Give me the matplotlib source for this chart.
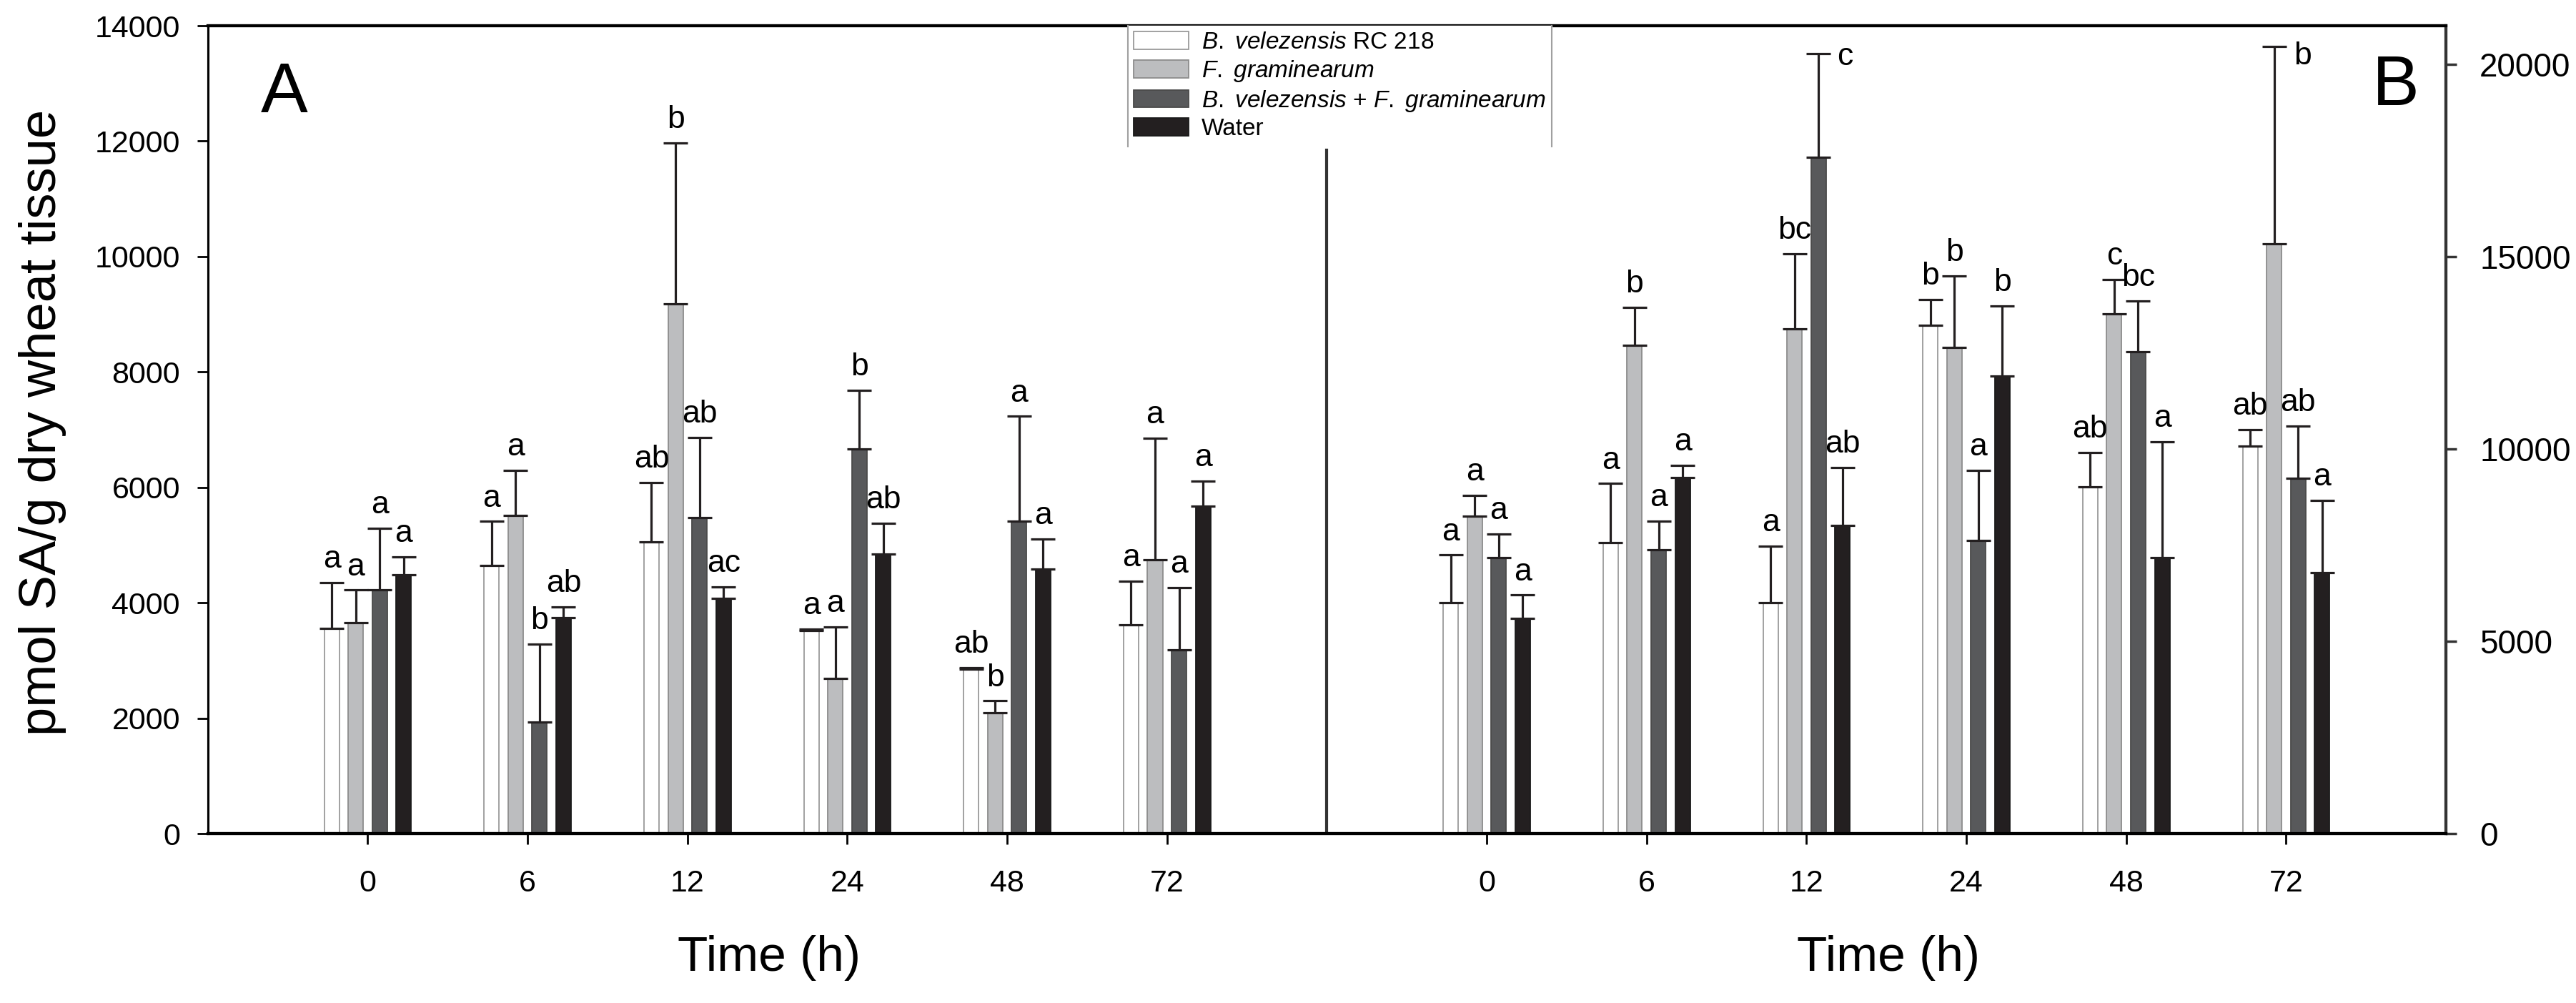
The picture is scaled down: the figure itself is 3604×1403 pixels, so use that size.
import numpy as np
import matplotlib
matplotlib.use("Agg")
import matplotlib.pyplot as plt
from matplotlib.lines import Line2D

plt.rcParams['font.family'] = ['Liberation Sans', 'DejaVu Sans']
plt.rcParams['mathtext.fontset'] = 'custom'
plt.rcParams['mathtext.rm'] = 'Liberation Sans'
plt.rcParams['mathtext.it'] = 'Liberation Sans:italic'

# --- data ---
times = ['0', '6', '12', '24', '48', '72']
series = [r'$\mathit{B.\ velezensis}$ RC 218',
          r'$\mathit{F.\ graminearum}$',
          r'$\mathit{B.\ velezensis}$ + $\mathit{F.\ graminearum}$',
          'Water']

# panel A (left axis), pmol SA/g
a_bvel = [3560, 4650, 5060, 3520, 2850, 3620]
a_fgra = [3650, 5510, 9180, 2690, 2090, 4740]
a_both = [4220, 1930, 5480, 6660, 5420, 3190]
a_water = [4490, 3740, 4080, 4840, 4580, 5680]
a_bvel_err = [790, 760, 1020, 20, 30, 760]
a_fgra_err = [570, 790, 2790, 890, 210, 2110]
a_both_err = [1070, 1350, 1390, 1020, 1810, 1070]
a_water_err = [310, 190, 200, 540, 530, 430]
a_bvel_let = ['a', 'a', 'ab', 'a', 'ab', 'a']
a_fgra_let = ['a', 'a', 'b', 'a', 'b', 'a']
a_both_let = ['a', 'b', 'ab', 'b', 'a', 'a']
a_water_let = ['a', 'ab', 'ac', 'ab', 'a', 'a']

# panel B (right axis)
b_bvel = [6010, 7570, 6010, 13220, 9020, 10070]
b_fgra = [8260, 12700, 13130, 12640, 13510, 15330]
b_both = [7170, 7380, 17580, 7620, 12520, 9230]
b_water = [5590, 9260, 8010, 11890, 7170, 6780]
b_bvel_err = [1230, 1530, 1470, 670, 880, 430]
b_fgra_err = [530, 980, 1950, 1860, 900, 5130]
b_both_err = [620, 750, 2700, 1820, 1330, 1370]
b_water_err = [610, 320, 1500, 1820, 3010, 1890]
b_bvel_let = ['a', 'a', 'a', 'b', 'ab', 'ab']
b_fgra_let = ['a', 'b', 'bc', 'b', 'c', 'b']
b_both_let = ['a', 'a', 'c', 'a', 'bc', 'ab']
b_water_let = ['a', 'a', 'ab', 'b', 'a', 'a']

# --- style ---
FILL = ['#ffffff', '#bcbdbf', '#58595b', '#231f20']
EDGE = ['#9a9a9a', '#8c8c8c', '#4a4a4a', '#1a1a1a']
ERR_COLOR = '#231f20'
BAR_W = 0.094
PITCH = 0.15
B_OFFSET = 7
LETTER_SIZE = 32
# letters that sit beside the cap instead of above: (panel, group, series) -> (dx, dy) in points
SIDE_LETTERS = {('B', 2, 2): (27, -12), ('B', 5, 1): (29, -18)}

fig = plt.figure(figsize=(36.04, 14.03), dpi=100)
ax = fig.add_axes([0.0807, 0.1689, 0.8688, 0.8054])
ax2 = ax.twinx()

groups_a = np.arange(len(times))
groups_b = groups_a + B_OFFSET


def draw_panel(axis, panel, x0, means, errs, letters):
    for i, (m, e, lets) in enumerate(zip(means, errs, letters)):
        xs = x0 + (i - 1.5) * PITCH
        axis.bar(xs, m, width=BAR_W, color=FILL[i], edgecolor=EDGE[i],
                 linewidth=1.3, zorder=2)
        axis.errorbar(xs, m, yerr=[np.zeros(len(e)), e], fmt='none',
                      ecolor=ERR_COLOR, elinewidth=2.3, capsize=12,
                      capthick=2.3, zorder=3)
        for g, (xx, top, lt) in enumerate(zip(xs, np.array(m) + np.array(e), lets)):
            dx, dy = SIDE_LETTERS.get((panel, g, i), (0, 15))
            axis.annotate(lt, (xx, top), xytext=(dx, dy),
                          textcoords='offset points', ha='center',
                          va='baseline', fontsize=LETTER_SIZE, zorder=4)


draw_panel(ax, 'A', groups_a,
           [a_bvel, a_fgra, a_both, a_water],
           [a_bvel_err, a_fgra_err, a_both_err, a_water_err],
           [a_bvel_let, a_fgra_let, a_both_let, a_water_let])
draw_panel(ax2, 'B', groups_b,
           [b_bvel, b_fgra, b_both, b_water],
           [b_bvel_err, b_fgra_err, b_both_err, b_water_err],
           [b_bvel_let, b_fgra_let, b_both_let, b_water_let])

ax.set_xlim(-1, 13)
ax.set_ylim(0, 14000)
ax2.set_ylim(0, 21000)
ax.set_yticks(np.arange(0, 14001, 2000))
ax2.set_yticks(np.arange(0, 20001, 5000))
ax.set_xticks(np.concatenate([groups_a, groups_b]))
ax.set_xticklabels(times + times)

ax.tick_params(axis='y', direction='out', length=11, width=2,
               labelsize=31, pad=17)
ax.tick_params(axis='x', direction='out', length=11, width=2,
               labelsize=31, pad=25)
ax2.tick_params(axis='y', direction='out', length=11, width=2.5,
                labelsize=33, pad=23, color='#333333')

for axis in (ax, ax2):
    axis.spines['top'].set_linewidth(3)
    axis.spines['bottom'].set_linewidth(3)
    axis.spines['left'].set_linewidth(2.2)
    axis.spines['right'].set_linewidth(3)
    axis.spines['right'].set_color('#333333')

# divider between the two panels, stops under the legend
ax.axvline(6, ymin=0, ymax=0.846, color='#333333', linewidth=3, zorder=1)

handles = [plt.Rectangle((0, 0), 1, 1, facecolor=FILL[i], edgecolor=EDGE[i],
                         linewidth=1.3) for i in range(4)]
leg = ax2.legend(handles, series, loc='upper left',
                 bbox_to_anchor=(0.411, 1.0), fontsize=24,
                 handlelength=2.3, handleheight=0.76, handletextpad=0.55,
                 labelspacing=0.2, borderpad=0.25, borderaxespad=0,
                 fancybox=False, framealpha=1)
leg.get_frame().set_edgecolor('white')
leg.set_zorder(5)

# legend box only shows its two side borders
fig.canvas.draw()
bb = leg.get_window_extent(fig.canvas.get_renderer()).transformed(
    fig.transFigure.inverted())
for xb in (bb.x0, bb.x1):
    fig.add_artist(Line2D([xb, xb], [bb.y0, bb.y1], color='#a0a0a0',
                          linewidth=1.5, zorder=6))

fig.text(365 / 3604, 1 - 157 / 1403, 'A', fontsize=71, ha='left',
         va='baseline')
fig.text(3385 / 3604, 1 - 147 / 1403, 'B', fontsize=71, ha='right',
         va='baseline')

fig.text(60 / 3604, 1 - 591 / 1403, 'pmol SA/g dry wheat tissue',
         rotation=90, ha='center', va='center', fontsize=52)
fig.text(1076 / 3604, 1 - 1340 / 1403, 'Time (h)', ha='center',
         va='center', fontsize=50)
fig.text(2642 / 3604, 1 - 1340 / 1403, 'Time (h)', ha='center',
         va='center', fontsize=50)

fig.savefig('out.png', dpi=100, facecolor='white')
